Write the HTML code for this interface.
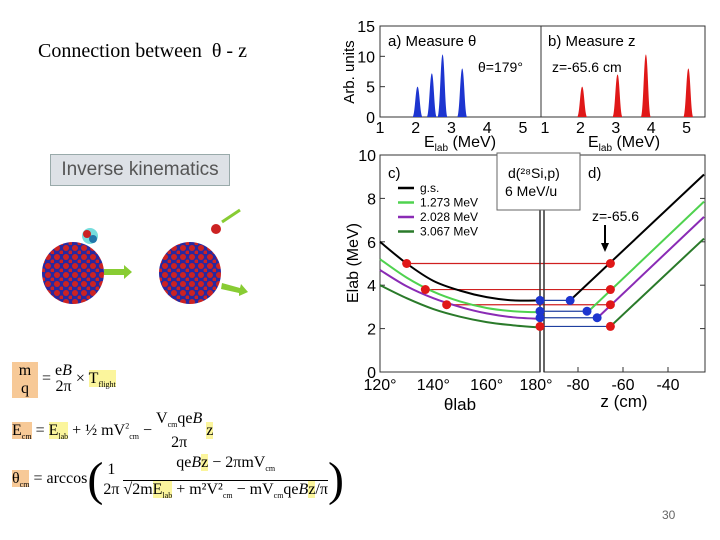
<!DOCTYPE html>
<html><head><meta charset="utf-8"><style>
body{margin:0;width:720px;height:540px;background:#fff;overflow:hidden;position:relative;font-family:"Liberation Sans",sans-serif}
.f{font-family:"Liberation Serif",serif;position:absolute;font-size:16px;color:#000}
.hl{background:#f7c997}.hy{background:#fbf59c}
</style></head><body>
<div style="position:absolute;left:38px;top:40px;font-family:'Liberation Serif',serif;font-size:20px">Connection between&nbsp; θ - z</div>
<div style="position:absolute;left:50px;top:154px;width:180px;height:32px;background:#dde1e6;border:1px solid #9aa;box-sizing:border-box;font-size:19px;color:#555;line-height:30px;text-align:center">Inverse kinematics</div>
<svg style="position:absolute;left:0;top:200px" width="270" height="140">
<defs>
<pattern id="dots" width="9" height="9" patternUnits="userSpaceOnUse"><rect width="9" height="9" fill="#2828a0"/><circle cx="3" cy="3" r="3" fill="#c22"/><circle cx="7.5" cy="7.5" r="2" fill="#c22"/></pattern></defs>
<circle cx="73" cy="73" r="31" fill="url(#dots)"/>
<circle cx="90" cy="36" r="8" fill="#7dd"/><circle cx="87" cy="34" r="4" fill="#c22"/><circle cx="93" cy="39" r="4" fill="#27a"/>
<polygon points="104,69 124,69 124,65 132,72 124,79 124,75 104,75" fill="#8c3"/>
<circle cx="190" cy="73" r="31" fill="url(#dots)"/>
<circle cx="216" cy="29" r="5" fill="#c22"/>
<line x1="222" y1="22" x2="240" y2="10" stroke="#8c3" stroke-width="3"/>
<polygon points="222,83 240,88 241,84 248,92 239,96 239,93 221,89" fill="#8c3"/>
</svg>
<div class="f" style="left:12px;top:362px"><span class="hl" style="display:inline-block;width:26px;text-align:center;line-height:18px">m<br>q</span> <span style="position:relative;top:-10px">= <span style="display:inline-block;text-align:center;vertical-align:middle;line-height:16px">e<i>B</i><br>2π</span> × <span class="hy">T<sub style="font-size:8px">flight</sub></span></span></div>
<div class="f" style="left:12px;top:410px"><span class="hl">E<sub style="font-size:8px">cm</sub></span> = <span class="hy">E<sub style="font-size:8px">lab</sub></span> + ½ mV<sup style="font-size:8px">2</sup><sub style="font-size:8px">cm</sub> − <span style="display:inline-block;text-align:center;vertical-align:middle;line-height:18px">V<sub style="font-size:8px">cm</sub>qe<i>B</i><br>2π</span> <span class="hy">z</span></div>
<div class="f" style="left:12px;top:452px"><span class="hl">θ<sub style="font-size:8px">cm</sub></span> = arccos<span style="font-size:48px;vertical-align:middle">(</span><span style="display:inline-block;text-align:center;vertical-align:middle;line-height:20px">1<br>2π</span> <span style="display:inline-block;text-align:center;vertical-align:middle;line-height:20px">qe<i>B</i><span class="hy">z</span> − 2πmV<sub style="font-size:8px">cm</sub><br><span style="border-top:1px solid #000">√2m<span class="hy">E<sub style="font-size:8px">lab</sub></span> + m²V²<sub style="font-size:8px">cm</sub> − mV<sub style="font-size:8px">cm</sub>qe<i>B</i><span class="hy">z</span>/π</span></span><span style="font-size:48px;vertical-align:middle">)</span></div>
<div style="position:absolute;left:662px;top:508px;font-size:12px;color:#666">30</div>
<svg id="ch" style="position:absolute;left:0;top:0" width="720" height="540" font-family="Liberation Sans, sans-serif"></svg>
<script>
const peakA=[2.05,2.45,2.75,3.3];const hA=[5,7.2,10.3,8];
const peakB=[2.05,3.05,3.85,5.05];const hB=[5,7,10.3,8];
const angles=[120,130,140,150,160,170,180];
const gsC=[6,5,4.2,3.75,3.45,3.3,3.3];
const g1C=[5.2,4.35,3.7,3.25,2.95,2.8,2.75];
const g2C=[4.7,3.95,3.4,3.0,2.7,2.52,2.45];
const g3C=[4.0,3.4,2.9,2.55,2.3,2.15,2.05];
const zStart=[-83.5,-74.8,-71.3,-65.6];
const eStart=[3.3,2.85,2.5,2.1];
const zEnd=-24;const eEnd=[9.1,7.85,7.15,6.15];
const redTheta=[130,137,145,180];const redE=[5,3.8,3.1,2.1];
const blueE=[3.3,2.8,2.5];const blueZ=[-83.5,-76,-71.5];
const cols=["#000","#4fd24f","#8a2bb5","#2a7a2a"];
const labels=["g.s.","1.273 MeV","2.028 MeV","3.067 MeV"];
const svg=document.getElementById('ch');const NS='http://www.w3.org/2000/svg';
function el(t,a,txt){const e=document.createElementNS(NS,t);for(const k in a)e.setAttribute(k,a[k]);if(txt!==undefined)e.textContent=txt;svg.appendChild(e);return e;}
const xa=v=>380+(v-1)*35.75, ya=v=>117-v*91/15;
const xb=v=>545+(v-1)*35.4;
const xc=v=>380+(v-120)*160/60, yc=v=>372-v*21.7;
const xd=v=>578+(v+80)*2.25;
let f;
f=el('rect',{x:380,y:26,width:161,height:91,fill:'none',stroke:'#333'});
f=el('rect',{x:541,y:26,width:164,height:91,fill:'none',stroke:'#333'});
f=el('rect',{x:380,y:155,width:160,height:217,fill:'none',stroke:'#333'});
f=el('rect',{x:544,y:155,width:161,height:217,fill:'none',stroke:'#333'});
[0,5,10,15].forEach(v=>{let t=el('text',{x:375,y:ya(v)+6,'text-anchor':'end','font-size':16},v);el('line',{x1:380,x2:385,y1:ya(v),y2:ya(v),stroke:'#333'});});
[1,2,3,4,5].forEach(v=>{let t=el('text',{x:xa(v),y:133,'text-anchor':'middle','font-size':16},v);
t=el('text',{x:xb(v),y:133,'text-anchor':'middle','font-size':16},v);});
let t=el('text',{x:0,y:0,'font-size':15,transform:'translate(354,72) rotate(-90)','text-anchor':'middle'},'Arb. units');
[[460,'a'],[624,'b']].forEach(([x,n])=>{const tt=el('text',{x:x,y:147,'text-anchor':'middle','font-size':16},'E');const ts=document.createElementNS(NS,'tspan');ts.setAttribute('font-size',10);ts.setAttribute('dy',4);ts.textContent='lab';tt.appendChild(ts);const t2=document.createElementNS(NS,'tspan');t2.setAttribute('dy',-4);t2.textContent=' (MeV)';tt.appendChild(t2);});
t=el('text',{x:388,y:46,'font-size':15},'a)  Measure θ');
t=el('text',{x:478,y:72,'font-size':14},'θ=179°');
t=el('text',{x:548,y:46,'font-size':15},'b)   Measure z');
t=el('text',{x:552,y:72,'font-size':14},'z=-65.6 cm');
function peak(x,h){const w=5,y=ya(h);return `M${x-w},117 C${x-2.5},116 ${x-2},${y} ${x},${y} C${x+2},${y} ${x+2.5},116 ${x+w},117Z`;}
peakA.forEach((p,i)=>{const e=el('path',{d:peak(xa(p),hA[i]),fill:'#1d35d0'});});
peakB.forEach((p,i)=>{const e=el('path',{d:peak(xb(p),hB[i]),fill:'#e01818'});});
[0,2,4,6,8,10].forEach(v=>{const e=el('text',{x:376,y:yc(v)+6,'text-anchor':'end','font-size':16},v);el('line',{x1:380,x2:385,y1:yc(v),y2:yc(v),stroke:'#333'});el('line',{x1:700,x2:705,y1:yc(v),y2:yc(v),stroke:'#333'});});
[120,140,160,180].forEach(v=>{const e=el('text',{x:xc(v)-(v==180?4:0),y:390,'text-anchor':'middle','font-size':16},v+'°');});
[-80,-60,-40].forEach(v=>{const e=el('text',{x:xd(v),y:390,'text-anchor':'middle','font-size':16},v);el('line',{x1:xd(v),x2:xd(v),y1:372,y2:367,stroke:'#333'});});
t=el('text',{x:0,y:0,'font-size':16,transform:'translate(358,263) rotate(-90)','text-anchor':'middle'},'Elab (MeV)');
t=el('text',{x:460,y:410,'text-anchor':'middle','font-size':17},'θlab');
t=el('text',{x:624,y:407,'text-anchor':'middle','font-size':17},'z (cm)');
t=el('text',{x:388,y:178,'font-size':15},'c)');
t=el('text',{x:588,y:178,'font-size':15},'d)');
labels.forEach((l,i)=>{const y=188+i*14.5;let e=el('line',{x1:398,x2:414,y1:y,y2:y,stroke:cols[i],'stroke-width':2.5});
e=el('text',{x:420,y:y+4,'font-size':12},l);});
redE.forEach((v,i)=>{const e=el('line',{x1:xc(redTheta[i]),x2:xd(-65.6),y1:yc(v),y2:yc(v),stroke:i==3?'#1f3fa0':'#d02020','stroke-width':1.2});});
blueE.forEach((v,i)=>{const e=el('line',{x1:xc(180),x2:xd(blueZ[i]),y1:yc(v),y2:yc(v),stroke:'#1f3fa0','stroke-width':1.2});});
function smooth(px,py){let d=`M${px[0]},${py[0]}`;for(let j=0;j<px.length-1;j++){const p0=j?j-1:j,p3=j+2<px.length?j+2:j+1;
const c1x=px[j]+(px[j+1]-px[p0])/6,c1y=py[j]+(py[j+1]-py[p0])/6,c2x=px[j+1]-(px[p3]-px[j])/6,c2y=py[j+1]-(py[p3]-py[j])/6;d+=` C${c1x},${c1y} ${c2x},${c2y} ${px[j+1]},${py[j+1]}`;}return d;}
[gsC,g1C,g2C,g3C].forEach((arr,i)=>{let e=el('path',{d:smooth(angles.map(xc),arr.map(yc)),fill:'none',stroke:cols[i],'stroke-width':2});
e=el('line',{x1:xd(zStart[i]),y1:yc(eStart[i]),x2:xd(zEnd),y2:yc(eEnd[i]),stroke:cols[i],'stroke-width':2});});
el('line',{x1:540,x2:540,y1:155,y2:372,stroke:'#333','stroke-width':1.5});
el('line',{x1:544,x2:544,y1:155,y2:372,stroke:'#333','stroke-width':1.5});
t=el('rect',{x:497,y:153,width:83,height:57,fill:'#fff',stroke:'#666'});
t=el('text',{x:508,y:178,'font-size':14},'d(²⁸Si,p)');
t=el('text',{x:505,y:196,'font-size':14},'6 MeV/u');
redE.forEach((v,i)=>{let e=el('circle',{cx:xc(redTheta[i]),cy:yc(v),r:4.5,fill:'#e01818'});
e=el('circle',{cx:xd(-65.6),cy:yc(v),r:4.5,fill:'#e01818'});});
blueE.forEach((v,i)=>{let e=el('circle',{cx:xc(180),cy:yc(v),r:4.5,fill:'#1d35d0'});
e=el('circle',{cx:xd(blueZ[i]),cy:yc(v),r:4.5,fill:'#1d35d0'});});
t=el('text',{x:592,y:221,'font-size':14},'z=-65.6');
el('line',{x1:605,x2:605,y1:225,y2:245,stroke:'#000','stroke-width':2});
el('polygon',{points:'601,243 609,243 605,252',fill:'#000'});
</script>
</body></html>
